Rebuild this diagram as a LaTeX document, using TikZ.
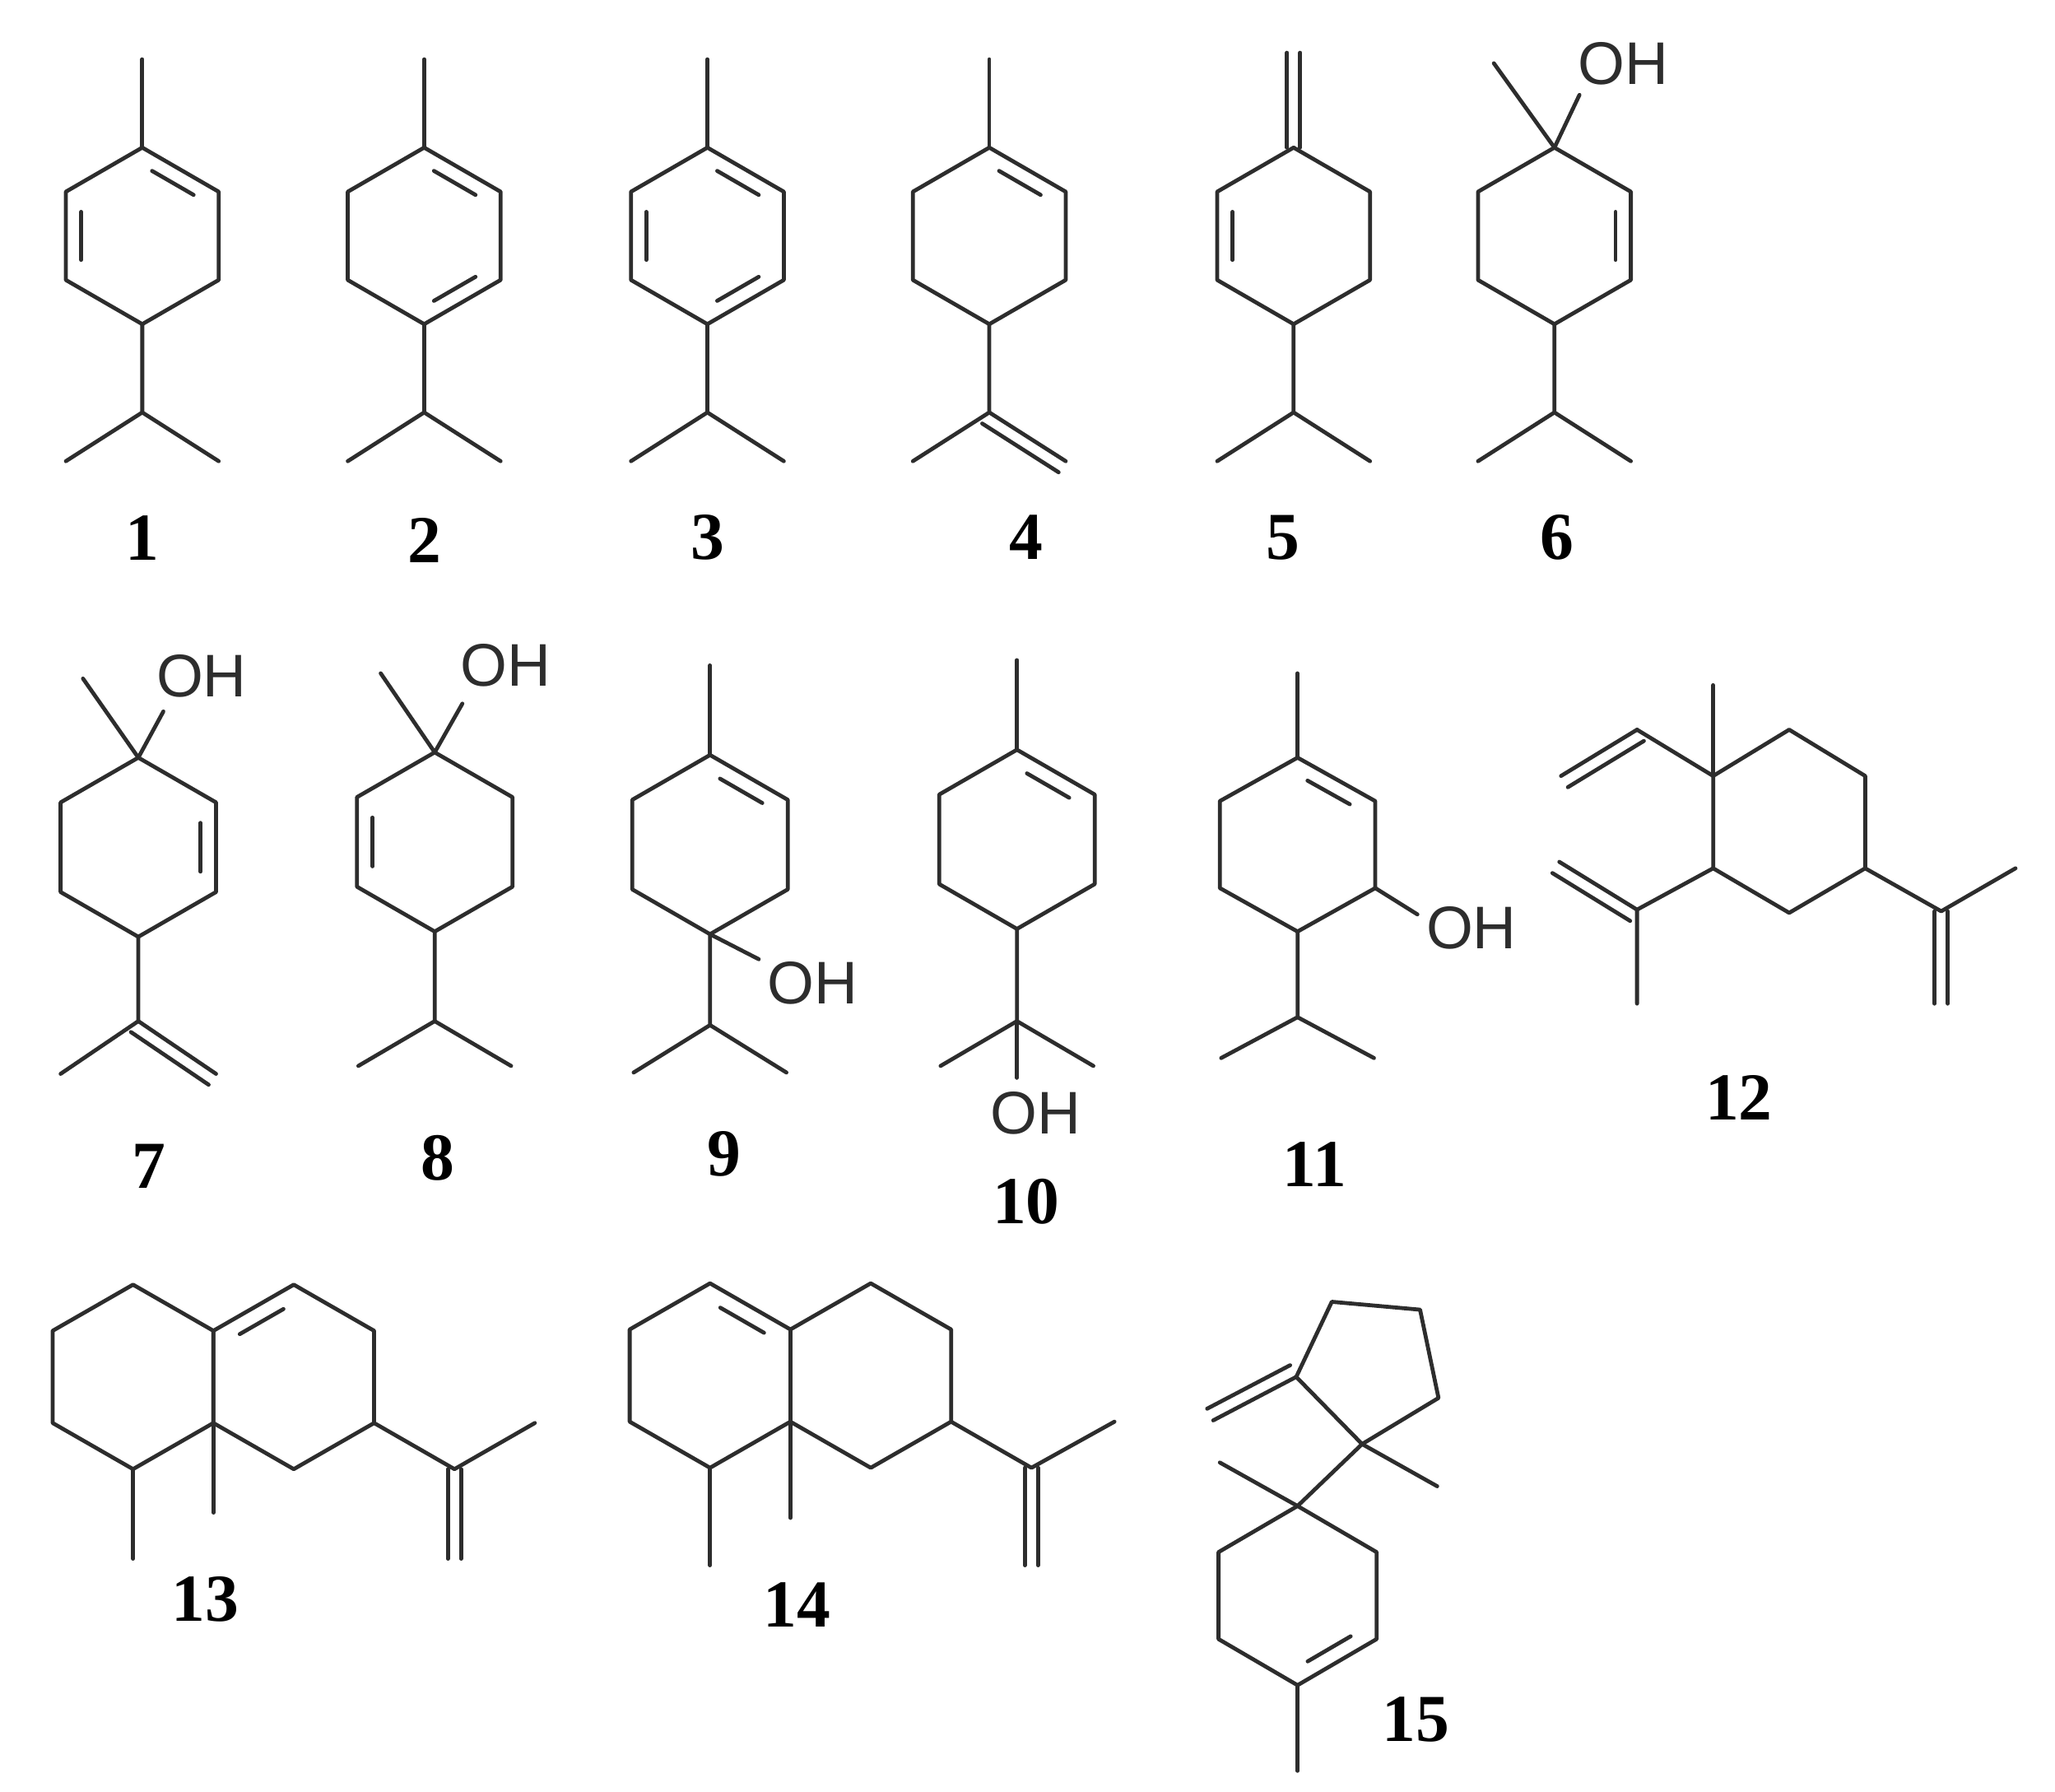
\documentclass[tikz,border=0pt]{standalone}
\usepackage{fontspec}
\setmainfont{Liberation Serif}
\newfontfamily\ohfont{Liberation Sans}
\usetikzlibrary{calc}
\definecolor{bondc}{RGB}{45,45,45}
\tikzset{bondline/.style={draw=bondc,line width=0.85pt,line cap=round,line join=round},
  oh/.style={font=\ohfont\fontsize{13}{13}\selectfont,text=bondc,inner sep=0pt},
  lab/.style={font=\bfseries\fontsize{14.5}{14.5}\selectfont,inner sep=0pt}}
% hex ring: center x, top y, name, dx, side
\newcommand\hexr[5]{%
  \coordinate (#3T) at (#1,#2);
  \coordinate (#3UR) at (#1+#4,#2+#5/2);
  \coordinate (#3LR) at (#1+#4,#2+1.5*#5);
  \coordinate (#3B) at (#1,#2+2*#5);
  \coordinate (#3LL) at (#1-#4,#2+1.5*#5);
  \coordinate (#3UL) at (#1-#4,#2+#5/2);
  \coordinate (#3C) at (#1,#2+#5);
  \draw[bondline] (#3T)--(#3UR)--(#3LR)--(#3B)--(#3LL)--(#3UL)--cycle;}
\newcommand\inner[3]{\draw[bondline] ($($(#1)!0.16!(#2)$)!0.2!(#3)$) -- ($($(#1)!0.84!(#2)$)!0.2!(#3)$);}
\newcommand\dbl[2]{\draw[bondline] (#1)--(#2); \draw[bondline] ($(#1)!1mm!-90:(#2)$) -- ($(#2)!1mm!90:(#1)$);}
\newcommand\vdbl[3]{\draw[bondline] (#1-5,#2)--(#1-5,#3); \draw[bondline] (#1+5,#2)--(#1+5,#3);}
\newcommand\ipr[4]{% x, branch y, ring bottom y, ends y
  \draw[bondline] (#1,#3)--(#1,#2)--(#1-58,#4); \draw[bondline] (#1,#2)--(#1+58,#4);}
\begin{document}
\begin{tikzpicture}[x=0.1mm,y=-0.1mm]
\useasboundingbox (0,0) rectangle (1560,1360);
% ---------- row 1
% 1
\hexr{108}{112}{a}{58}{67}
\draw[bondline] (108,45)--(aT);
\inner{aT}{aUR}{aC}\inner{aUL}{aLL}{aC}
\ipr{108}{313}{246}{350}
\node[lab] (l1) at (108,408) {1};
% 2
\hexr{322}{112}{b}{58}{67}
\draw[bondline] (322,45)--(bT);
\inner{bT}{bUR}{bC}\inner{bLR}{bB}{bC}
\ipr{322}{313}{246}{350}
\node[lab] (l2) at (322,410) {2};
% 3
\hexr{537}{112}{c}{58}{67}
\draw[bondline] (537,45)--(cT);
\inner{cT}{cUR}{cC}\inner{cLR}{cB}{cC}\inner{cUL}{cLL}{cC}
\ipr{537}{313}{246}{350}
\node[lab] (l3) at (537,408) {3};
% 4
\hexr{751}{112}{d}{58}{67}
\draw[bondline] (751,45)--(dT);
\inner{dT}{dUR}{dC}
\draw[bondline] (dB)--(751,313)--(693,350);
\coordinate (d1) at (751,313); \coordinate (d2) at (809,350);
\dbl{d1}{d2}
\node[lab] (l4) at (779,408) {4};
% 5
\hexr{982}{112}{e}{58}{67}
\vdbl{982}{40}{112}
\inner{eUL}{eLL}{eC}
\ipr{982}{313}{246}{350}
\node[lab] (l5) at (974,408) {5};
% 6
\hexr{1180}{112}{f}{58}{67}
\draw[bondline] (1134,48)--(fT)--(1199,72);
\inner{fUR}{fLR}{fC}
\ipr{1180}{313}{246}{350}
\node[oh] (oh6) at (1232,48) {OH};
\node[lab] (l6) at (1182,408) {6};
% ---------- row 2
% 7
\hexr{105}{575}{g}{59}{68}
\draw[bondline] (63,515)--(gT)--(124,540);
\inner{gUR}{gLR}{gC}
\draw[bondline] (gB)--(105,775)--(46,815);
\coordinate (g1) at (105,775); \coordinate (g2) at (164,815);
\dbl{g1}{g2}
\node[oh] (oh7) at (153,513) {OH};
\node[lab] (l7) at (113,885) {7};
% 8
\hexr{330}{571}{h}{59}{68}
\draw[bondline] (289,511)--(hT)--(351,534);
\inner{hUL}{hLL}{hC}
\ipr{330}{775}{707}{809}
\node[oh] (oh8) at (384,505) {OH};
\node[lab] (l8) at (332,879) {8};
% 9
\hexr{539}{573}{i}{59}{68}
\draw[bondline] (539,505)--(iT);
\inner{iT}{iUR}{iC}
\draw[bondline] (iB)--(576,728);
\ipr{539}{778}{709}{814}
\node[oh] (oh9) at (617,746) {OH};
\node[lab] (l9) at (550,876) {9};
% 10
\hexr{772}{569}{j}{59}{68}
\draw[bondline] (772,501)--(jT);
\inner{jT}{jUR}{jC}
\ipr{772}{775}{705}{809}
\draw[bondline] (772,775)--(772,818);
\node[oh] (oh10) at (786,845) {OH};
\node[lab] (l10) at (779,912) {10};
% 11
\hexr{985}{575}{k}{59}{66}
\draw[bondline] (985,511)--(kT);
\inner{kT}{kUR}{kC}
\draw[bondline] (kLR)--(1076,694);
\ipr{985}{772}{707}{803}
\node[oh] (oh11) at (1117,704) {OH};
\node[lab] (l11) at (998,884) {11};
% 12
\coordinate (mQ) at (1300.5,588.9);
\coordinate (m1) at (1358.2,553.8);
\coordinate (m2) at (1415.9,588.9);
\coordinate (m3) at (1415.9,659);
\coordinate (m4) at (1358.2,692.8);
\coordinate (m5) at (1300.5,659);
\draw[bondline] (mQ)--(m1)--(m2)--(m3)--(m4)--(m5)--cycle;
\draw[bondline] (mQ)--(1300.5,520);
\coordinate (mv1) at (1242.7,553.8); \coordinate (mv2) at (1185,588.9);
\draw[bondline] (mQ)--(mv1);
\dbl{mv2}{mv1}
\coordinate (ml1) at (1242.7,690.4); \coordinate (ml2) at (1183.7,654.1);
\draw[bondline] (m5)--(ml1)--(1242.7,761.7);
\dbl{ml2}{ml1}
\coordinate (mr1) at (1473.6,691.6);
\draw[bondline] (m3)--(mr1)--(1530,659);
\vdbl{1473.6}{691.6}{761.7}
\node[lab] (l12) at (1320,833) {12};
% ---------- row 3
% 13
\hexr{101}{975}{n}{61}{70}
\hexr{223}{975}{o}{61}{70}
\inner{nUR}{oT}{oC}
\draw[bondline] (nB)--(101,1183);
\draw[bondline] (nLR)--(162,1148);
\draw[bondline] (oLR)--(345,1115)--(406,1080);
\vdbl{345}{1115}{1183}
\node[lab] (l13) at (156,1214) {13};
% 14
\hexr{539}{974}{p}{61}{70}
\hexr{661}{974}{q}{61}{70}
\inner{pT}{pUR}{pC}
\draw[bondline] (pB)--(539,1188);
\draw[bondline] (pLR)--(600,1152);
\draw[bondline] (qLR)--(783,1114)--(846,1079);
\vdbl{783}{1114}{1188}
\node[lab] (l14) at (605,1218) {14};
% 15
\coordinate (s1) at (984,1045);
\coordinate (s2) at (1011,988);
\coordinate (s3) at (1078,994);
\coordinate (s4) at (1092,1061);
\coordinate (sQ) at (1034,1096);
\draw[bondline] (s1)--(s2)--(s3)--(s4)--(sQ)--cycle;
\coordinate (sx) at (921,1078);
\dbl{s1}{sx}
\draw[bondline] (sQ)--(1091,1128);
\coordinate (sS) at (985,1143);
\draw[bondline] (sQ)--(sS)--(926,1110);
\coordinate (t1) at (1045,1178);
\coordinate (t2) at (1045,1244);
\coordinate (t3) at (985,1279);
\coordinate (t4) at (925,1244);
\coordinate (t5) at (925,1178);
\coordinate (tC) at (985,1211);
\draw[bondline] (sS)--(t1)--(t2)--(t3)--(t4)--(t5)--cycle;
\inner{t2}{t3}{tC}
\draw[bondline] (t3)--(985,1344);
\node[lab] (l15) at (1075,1305) {15};
\end{tikzpicture}
\end{document}
